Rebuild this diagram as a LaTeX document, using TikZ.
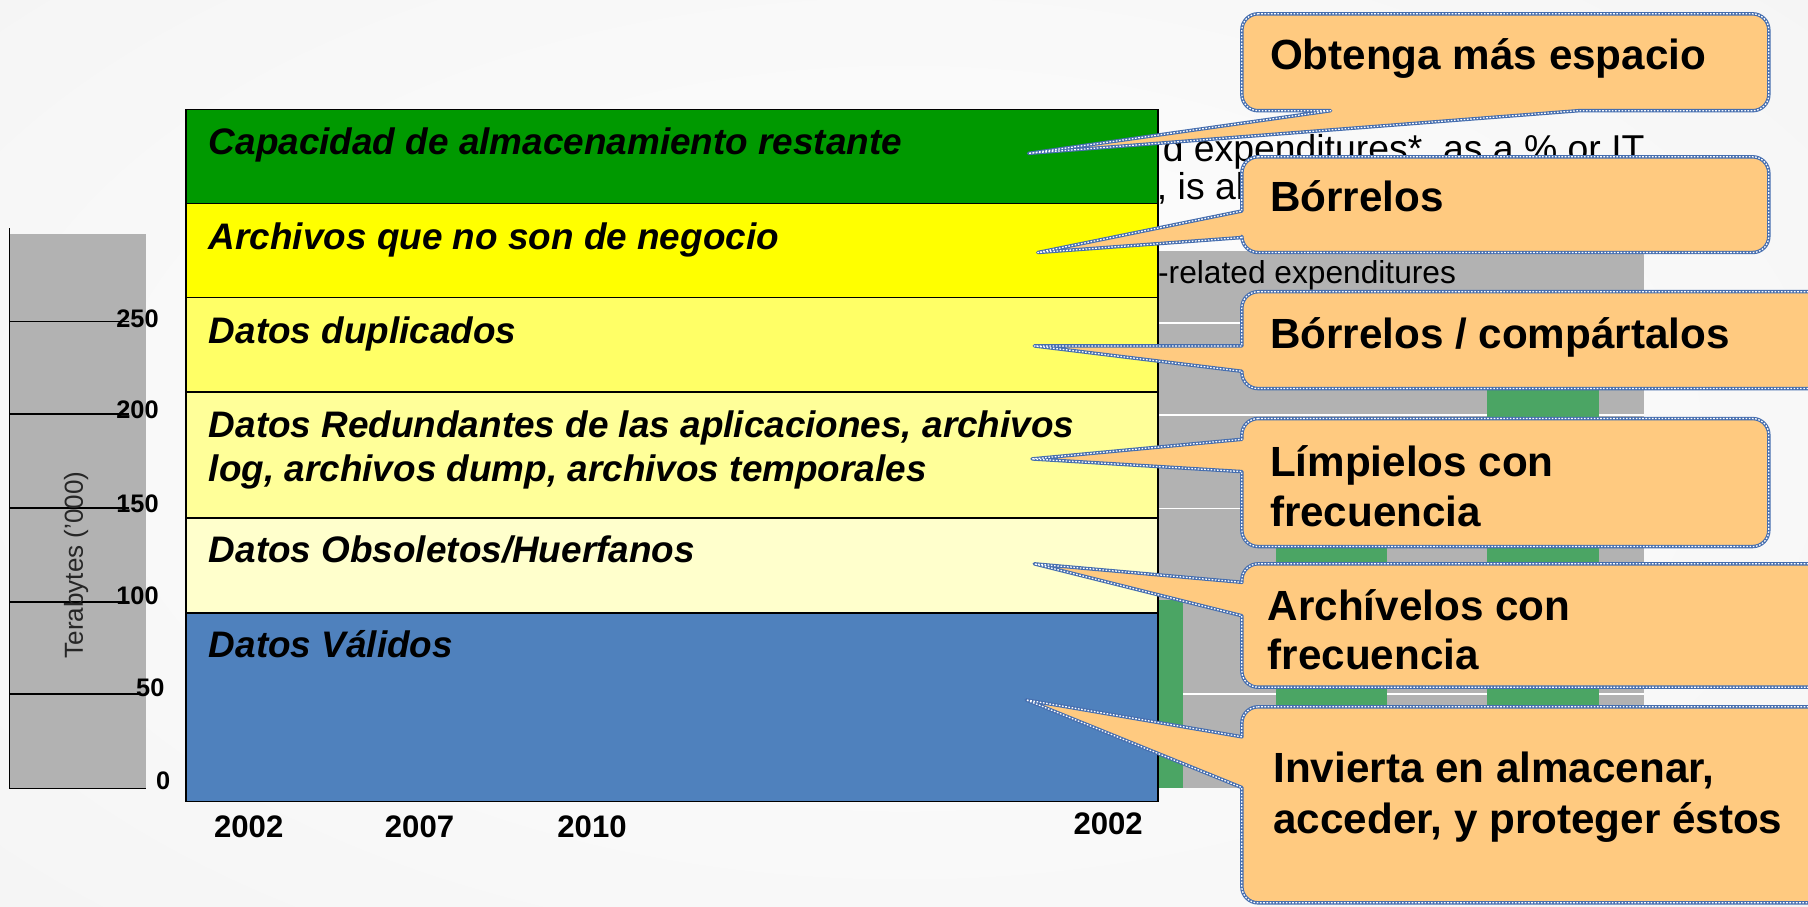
\documentclass[tikz,border=0pt]{standalone}
\usepackage{fontspec}
\setmainfont{Liberation Sans}
\definecolor{chartgray}{RGB}{178,178,178}
\definecolor{barg}{RGB}{75,165,100}
\definecolor{rowgreen}{RGB}{0,153,0}
\definecolor{rowya}{RGB}{255,255,0}
\definecolor{rowyb}{RGB}{255,255,102}
\definecolor{rowyc}{RGB}{255,255,153}
\definecolor{rowyd}{RGB}{255,255,204}
\definecolor{rowblue}{RGB}{79,129,189}
\definecolor{callfill}{RGB}{255,202,128}
\definecolor{calledge}{RGB}{70,110,175}
% callout with pointer on its left side: x1,y1,x2,y2, base top y, base bottom y, tip
\newcommand{\mycallL}[7]{%
\path[callbox] ({#1+14},#2) -- ({#3-14},#2)
 .. controls ({#3-6.3},#2) and (#3,{#2+6.3}) .. (#3,{#2+14})
 -- (#3,{#4-14})
 .. controls (#3,{#4-6.3}) and ({#3-6.3},#4) .. ({#3-14},#4)
 -- ({#1+14},#4)
 .. controls ({#1+6.3},#4) and (#1,{#4-6.3}) .. (#1,{#4-14})
 -- (#1,#6) -- (#7) -- (#1,#5)
 -- (#1,{#2+14})
 .. controls (#1,{#2+6.3}) and ({#1+6.3},#2) .. ({#1+14},#2) -- cycle;}
% callout with pointer on its bottom side: x1,y1,x2,y2, base left x, base right x, tip
\newcommand{\mycallB}[7]{%
\path[callbox] ({#1+14},#2) -- ({#3-14},#2)
 .. controls ({#3-6.3},#2) and (#3,{#2+6.3}) .. (#3,{#2+14})
 -- (#3,{#4-14})
 .. controls (#3,{#4-6.3}) and ({#3-6.3},#4) .. ({#3-14},#4)
 -- (#6,#4) -- (#7) -- (#5,#4)
 -- ({#1+14},#4)
 .. controls ({#1+6.3},#4) and (#1,{#4-6.3}) .. (#1,{#4-14})
 -- (#1,{#2+14})
 .. controls (#1,{#2+6.3}) and ({#1+6.3},#2) .. ({#1+14},#2) -- cycle;}
\begin{document}
\begin{tikzpicture}[x=0.5pt,y=-0.5pt,
  rowbox/.style={draw=black, line width=0.75pt, anchor=north west, minimum width=421.5pt, inner sep=0pt, outer sep=0pt},
  rowtxt/.style={anchor=base west, inner sep=0pt, font=\fontsize{16}{19}\selectfont\bfseries\itshape},
  calltxt/.style={anchor=base west, inner sep=0pt, font=\fontsize{18.3}{22}\selectfont\bfseries},
  callbox/.style={fill=callfill, draw=calledge, line width=1.5pt, line join=round,
     postaction={draw=white, line width=0.55pt, dash pattern=on 0.7pt off 0.7pt}},
  ticklab/.style={anchor=base east, inner sep=0pt, font=\fontsize{11}{13}\selectfont\bfseries},
  yearlab/.style={anchor=base west, inner sep=0pt, font=\fontsize{13.5}{16}\selectfont\bfseries},
  axisline/.style={draw=black, line width=0.6pt},
  bgtxt/.style={anchor=base west, inner sep=0pt, font=\fontsize{16.2}{18}\selectfont},
  gridw/.style={draw=white, line width=0.8pt}
]
\useasboundingbox (0,0) rectangle (1568,786);
\clip (0,0) rectangle (1568,786);
% background
\fill[gray!14] (0,0) rectangle (1568,786);
\shade[inner color=white, outer color=gray!14] (784,380) ellipse (1900 and 1050);

% chart remains behind the callouts
\fill[chartgray] (1004,218) rectangle (1426,683);
\foreach \gy in {280,360,441,521,602} \draw[gridw] (1004,\gy) -- (1426,\gy);
\fill[barg] (1004.5,520.7) rectangle (1025.7,683);
\fill[barg] (1107,400) rectangle (1203,683);
\fill[barg] (1290,338) rectangle (1387,683);
\node[bgtxt] (e1) at (1008,140) {d expenditures*, as a \% or IT};
\node[bgtxt] (e2) at (1003,173) {, is al};
\node[bgtxt, font=\fontsize{13.75}{16}\selectfont] (e3) at (1004,246) {-related expenditures};

% left axis
\fill[chartgray] (8,203) rectangle (127,684);
\node[ticklab] (l250) at (138,284) {250};
\node[ticklab] (l200) at (138,363) {200};
\node[ticklab] (l150) at (138,444.6) {150};
\node[ticklab] (l100) at (138,524) {100};
\node[ticklab] (l50) at (143,604) {50};
\node[ticklab] (l0) at (148,685) {0};
\draw[axisline] (8,198) -- (8,684) -- (127,684);
\foreach \ty in {279,359,440.6,522} \draw[axisline] (8,\ty) -- (112,\ty);
\draw[axisline] (8,602) -- (121,602);
\node[rotate=90, inner sep=0pt, font=\fontsize{11.3}{13}\selectfont, text=black!85] (ylab) at (66,490) {Terabytes ('000)};

% years
\node[yearlab] (y1) at (185.3,726) {2002};
\node[yearlab] (y2) at (333.4,726) {2007};
\node[yearlab] (y3) at (483,726) {2010};
\node[yearlab] (y4) at (930.6,724) {2002};

% stacked rows
\node[rowbox, fill=rowgreen, minimum height=40.75pt] (r1) at (161,95) {};
\node[rowbox, fill=rowya, minimum height=40.75pt] (r2) at (161,176.5) {};
\node[rowbox, fill=rowyb, minimum height=41pt] (r3) at (161,258) {};
\node[rowbox, fill=rowyc, minimum height=54.75pt] (r4) at (161,340) {};
\node[rowbox, fill=rowyd, minimum height=41pt] (r5) at (161,449.5) {};
\node[rowbox, fill=rowblue, minimum height=81.75pt] (r6) at (161,531.5) {};
\node[rowtxt] (s1) at (180.8,133.6) {Capacidad de almacenamiento restante};
\node[rowtxt] (s2) at (180.8,216) {Archivos que no son de negocio};
\node[rowtxt] (s3) at (180.8,297.7) {Datos duplicados};
\node[rowtxt] (s4a) at (180.8,379.3) {Datos Redundantes de las aplicaciones, archivos};
\node[rowtxt] (s4b) at (180.8,417.2) {log, archivos dump, archivos temporales};
\node[rowtxt] (s5) at (180.8,488) {Datos Obsoletos/Huerfanos};
\node[rowtxt] (s6) at (180.8,570) {Datos Válidos};

% callouts
\coordinate (t1) at (892,133);
\coordinate (t2) at (900,219);
\coordinate (t3) at (897,300);
\coordinate (t4) at (895,398);
\coordinate (t5) at (897,489);
\coordinate (t6) at (890,607);
\mycallB{1077}{12}{1534}{96}{1154}{1369}{t1}
\mycallL{1077}{136}{1534}{219}{183}{206}{t2}
\mycallL{1077}{253}{1610}{337}{300}{322}{t3}
\mycallL{1077}{363}{1534}{474}{381}{409}{t4}
\mycallL{1077}{489}{1610}{596}{505}{534}{t5}
\mycallL{1077}{613}{1610}{783}{639}{683}{t6}
\node[calltxt] (c1) at (1101,60.7) {Obtenga más espacio};
\node[calltxt] (c2) at (1101,183) {Bórrelos};
\node[calltxt] (c3) at (1101,302) {Bórrelos / compártalos};
\node[calltxt] (c4a) at (1101,413) {Límpielos con};
\node[calltxt] (c4b) at (1101,457) {frecuencia};
\node[calltxt] (c5a) at (1099,538.5) {Archívelos con};
\node[calltxt] (c5b) at (1099,581) {frecuencia};
\node[calltxt] (c6a) at (1104,679) {Invierta en almacenar,};
\node[calltxt] (c6b) at (1104,723) {acceder, y proteger éstos};
\end{tikzpicture}
\end{document}
